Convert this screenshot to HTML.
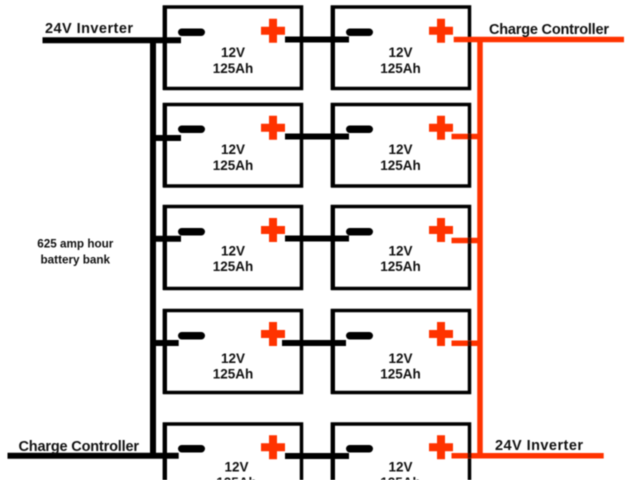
<!DOCTYPE html>
<html>
<head>
<meta charset="utf-8">
<style>
html,body{margin:0;padding:0;background:#fff;width:640px;height:480px;overflow:hidden}
svg{display:block;filter:blur(0.5px)}
text{font-family:"Liberation Sans",Arial,sans-serif;font-weight:bold;fill:#111}
.c{text-anchor:middle;font-size:13.5px}
.l{font-size:14.5px}
.s{font-size:11.7px;text-anchor:middle}
</style>
</head>
<body>
<svg width="640" height="480" viewBox="0 0 640 480" xmlns="http://www.w3.org/2000/svg">
<g fill="none" stroke="#000">
  <path d="M164.5 90V7H301.5V88.5H163" stroke-width="3.5"/>
  <path d="M164.5 187V104.5H301.5V186H163" stroke-width="3.5"/>
  <path d="M164.5 290V206.5H301.5V288.5H163" stroke-width="3.5"/>
  <path d="M164.5 394V310.5H301.5V392.5H163" stroke-width="3.5"/>
  <path d="M164.5 480V424H301.5V480" stroke-width="3.5"/>
  <path d="M332.5 90V7H469.5V88.5H331" stroke-width="3.5"/>
  <path d="M332.5 187V104.5H469.5V186H331" stroke-width="3.5"/>
  <path d="M332.5 290V206.5H469.5V288.5H331" stroke-width="3.5"/>
  <path d="M332.5 394V310.5H469.5V392.5H331" stroke-width="3.5"/>
  <path d="M332.5 480V424H469.5V480" stroke-width="3.5"/>
</g>
<!-- thicker left borders -->
<g fill="#000">
  <rect x="162.7" y="5.5" width="4.3" height="84.5"/>
  <rect x="162.7" y="103" width="4.3" height="84.5"/>
  <rect x="162.7" y="205" width="4.3" height="85"/>
  <rect x="162.7" y="309" width="4.3" height="85"/>
  <rect x="162.7" y="422.5" width="4.3" height="57.5"/>
  <rect x="330.7" y="5.5" width="4.3" height="84.5"/>
  <rect x="330.7" y="103" width="4.3" height="84.5"/>
  <rect x="330.7" y="205" width="4.3" height="85"/>
  <rect x="330.7" y="309" width="4.3" height="85"/>
  <rect x="330.7" y="422.5" width="4.3" height="57.5"/>
</g>

<!-- minus terminals -->
<g fill="#000">
  <rect x="178" y="28.5" width="27" height="7.5" rx="3.75"/>
  <rect x="178" y="125.5" width="27" height="7.5" rx="3.75"/>
  <rect x="178" y="228" width="27" height="7.5" rx="3.75"/>
  <rect x="178" y="332" width="27" height="7.5" rx="3.75"/>
  <rect x="178" y="445" width="27" height="7.5" rx="3.75"/>
  <rect x="346" y="28.5" width="27" height="7.5" rx="3.75"/>
  <rect x="346" y="125.5" width="27" height="7.5" rx="3.75"/>
  <rect x="346" y="228" width="27" height="7.5" rx="3.75"/>
  <rect x="346" y="332" width="27" height="7.5" rx="3.75"/>
  <rect x="346" y="445" width="27" height="7.5" rx="3.75"/>
</g>

<!-- plus terminals -->
<g fill="#ff3300">
  <path d="M269 18.7h8v8h8v8h-8v8h-8v-8h-8v-8h8z"/>
  <path d="M269 115.7h8v8h8v8h-8v8h-8v-8h-8v-8h8z"/>
  <path d="M269 218h8v8h8v8h-8v8h-8v-8h-8v-8h8z"/>
  <path d="M269 322h8v8h8v8h-8v8h-8v-8h-8v-8h8z"/>
  <path d="M269 435.3h8v8h8v8h-8v8h-8v-8h-8v-8h8z"/>
  <path d="M437 18.7h8v8h8v8h-8v8h-8v-8h-8v-8h8z"/>
  <path d="M437 115.7h8v8h8v8h-8v8h-8v-8h-8v-8h8z"/>
  <path d="M437 218h8v8h8v8h-8v8h-8v-8h-8v-8h8z"/>
  <path d="M437 322h8v8h8v8h-8v8h-8v-8h-8v-8h8z"/>
  <path d="M437 435.3h8v8h8v8h-8v8h-8v-8h-8v-8h8z"/>
</g>

<!-- black wiring -->
<g stroke="#000" stroke-width="6" fill="none">
  <path d="M153 40V456"/>
  <path d="M42.5 40.3H181"/>
  <path d="M150 138H181"/>
  <path d="M150 238.7H181"/>
  <path d="M150 343H178.7"/>
  <path d="M7.5 455.7H178.7"/>
  <path d="M285 39.5H349"/>
  <path d="M285 136.5H349"/>
  <path d="M285 238.5H349"/>
  <path d="M282 343H346"/>
  <path d="M285 456H349"/>
</g>

<!-- red wiring -->
<g stroke="#ff3300" stroke-width="5.5" fill="none">
  <path d="M480 39.5V456"/>
  <path d="M453.7 39.5H624"/>
  <path d="M451.5 136.5H480"/>
  <path d="M451.5 240.5H480"/>
  <path d="M451.5 343.3H480"/>
  <path d="M451.5 455.7H603.7"/>
</g>
<!-- battery border over red stubs -->
<g fill="#000" opacity="0.75">
  <rect x="467.8" y="134" width="3.5" height="5"/>
  <rect x="467.8" y="238" width="3.5" height="5"/>
  <rect x="467.8" y="341" width="3.5" height="5"/>
  <rect x="467.8" y="453" width="3.5" height="5"/>
</g>

<!-- battery labels -->
<text class="c" x="233" y="57">12V</text><text class="c" x="233" y="73">125Ah</text>
<text class="c" x="233" y="154">12V</text><text class="c" x="233" y="170">125Ah</text>
<text class="c" x="233" y="255.5">12V</text><text class="c" x="233" y="271">125Ah</text>
<text class="c" x="233" y="363">12V</text><text class="c" x="233" y="378.5">125Ah</text>
<text class="c" x="236.5" y="471.5">12V</text><text class="c" x="236.5" y="487">125Ah</text>
<text class="c" x="400.5" y="57">12V</text><text class="c" x="400.5" y="73">125Ah</text>
<text class="c" x="400.5" y="154">12V</text><text class="c" x="400.5" y="170">125Ah</text>
<text class="c" x="400.5" y="255.5">12V</text><text class="c" x="400.5" y="271">125Ah</text>
<text class="c" x="400.5" y="363">12V</text><text class="c" x="400.5" y="378.5">125Ah</text>
<text class="c" x="400.5" y="471.5">12V</text><text class="c" x="400.5" y="487">125Ah</text>

<!-- outer labels -->
<text class="l" x="45" y="33" textLength="88" lengthAdjust="spacing">24V Inverter</text>
<text class="l" x="489" y="34" textLength="120" lengthAdjust="spacing">Charge Controller</text>
<text class="l" x="18.5" y="451" textLength="120.5" lengthAdjust="spacing">Charge Controller</text>
<text class="l" x="495" y="450" textLength="88" lengthAdjust="spacing">24V Inverter</text>
<text class="s" x="75.3" y="247.7">625 amp hour</text>
<text class="s" x="75.3" y="263.3">battery bank</text>
</svg>
</body>
</html>
